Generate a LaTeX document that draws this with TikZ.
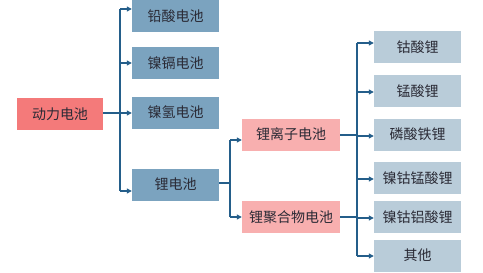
\documentclass[tikz,border=0pt]{standalone}
\usepackage{fontspec}
\setmainfont{Noto Sans CJK SC}
\usetikzlibrary{arrows.meta}
\definecolor{cRed}{HTML}{F47A7A}
\definecolor{cBlue}{HTML}{7BA3BF}
\definecolor{cPink}{HTML}{F8AFAF}
\definecolor{cLight}{HTML}{B9CCD9}
\definecolor{cLine}{HTML}{245E8A}
\definecolor{cText}{HTML}{2A2A35}
\tikzset{
  boxbase/.style={inner sep=0pt, minimum height=32pt, font=\fontsize{14}{16}\selectfont, text=cText},
  rootbox/.style={boxbase, fill=cRed, minimum width=86pt},
  bluebox/.style={boxbase, fill=cBlue, minimum width=87pt},
  pinkbox/.style={boxbase, fill=cPink, minimum width=98pt},
  lightbox/.style={boxbase, fill=cLight, minimum width=87pt},
  conn/.style={draw=cLine, line width=1.1pt},
  arr/.style={conn, -{Triangle[length=5pt,width=5pt]}}
}
\begin{document}
\begin{tikzpicture}[x=1pt,y=-1pt]
\useasboundingbox[fill=white] (0,0) rectangle (483,273);
% nodes
\node[rootbox] (dl) at (60,114) {动力电池};
\node[bluebox] (qs) at (175.5,16) {铅酸电池};
\node[bluebox] (ng) at (175.5,63) {镍镉电池};
\node[bluebox] (nq) at (175.5,112.5) {镍氢电池};
\node[bluebox] (ld) at (175.5,184.5) {锂电池};
\node[pinkbox] (lz) at (291,134.5) {锂离子电池};
\node[pinkbox] (lj) at (291,217) {锂聚合物电池};
\node[lightbox] (gs) at (417.5,47) {钴酸锂};
\node[lightbox] (ms) at (417.5,91) {锰酸锂};
\node[lightbox] (ls) at (417.5,134.5) {磷酸铁锂};
\node[lightbox] (ngm) at (417.5,178) {镍钴锰酸锂};
\node[lightbox] (nga) at (417.5,217) {镍钴铝酸锂};
\node[lightbox] (qt) at (417.5,255.5) {其他};
% bus 1
\coordinate (a1) at (120,9);
\coordinate (a2) at (120,63);
\coordinate (a3) at (120,113);
\coordinate (a4) at (120,191);
\draw[conn] (a1) -- (a4);
\draw[conn] (dl.east |- a3) -- (a3);
\draw[arr] (a1) -- (a1 -| qs.west);
\draw[arr] (a2) -- (a2 -| ng.west);
\draw[arr] (a3) -- (a3 -| nq.west);
\draw[arr] (a4) -- (a4 -| ld.west);
% bus 2
\coordinate (b0) at (230,183);
\coordinate (b1) at (230,140);
\coordinate (b2) at (230,217);
\draw[conn] (ld.east |- b0) -- (b0);
\draw[conn] (b1) -- (b2);
\draw[arr] (b1) -- (b1 -| lz.west);
\draw[arr] (b2) -- (b2 -| lj.west);
% bus 3
\coordinate (c1) at (357,43);
\coordinate (c2) at (357,92);
\coordinate (c3) at (357,136);
\coordinate (c4) at (357,179);
\coordinate (c5) at (357,218);
\coordinate (c6) at (357,256);
\coordinate (d1) at (357,135);
\coordinate (d2) at (357,217);
\draw[conn] (c1) -- (c6);
\draw[conn] (lz.east |- d1) -- (d1);
\draw[conn] (lj.east |- d2) -- (d2);
\draw[arr] (c1) -- (c1 -| gs.west);
\draw[arr] (c2) -- (c2 -| ms.west);
\draw[arr] (c3) -- (c3 -| ls.west);
\draw[arr] (c4) -- (c4 -| ngm.west);
\draw[arr] (c5) -- (c5 -| nga.west);
\draw[arr] (c6) -- (c6 -| qt.west);
\end{tikzpicture}
\end{document}
